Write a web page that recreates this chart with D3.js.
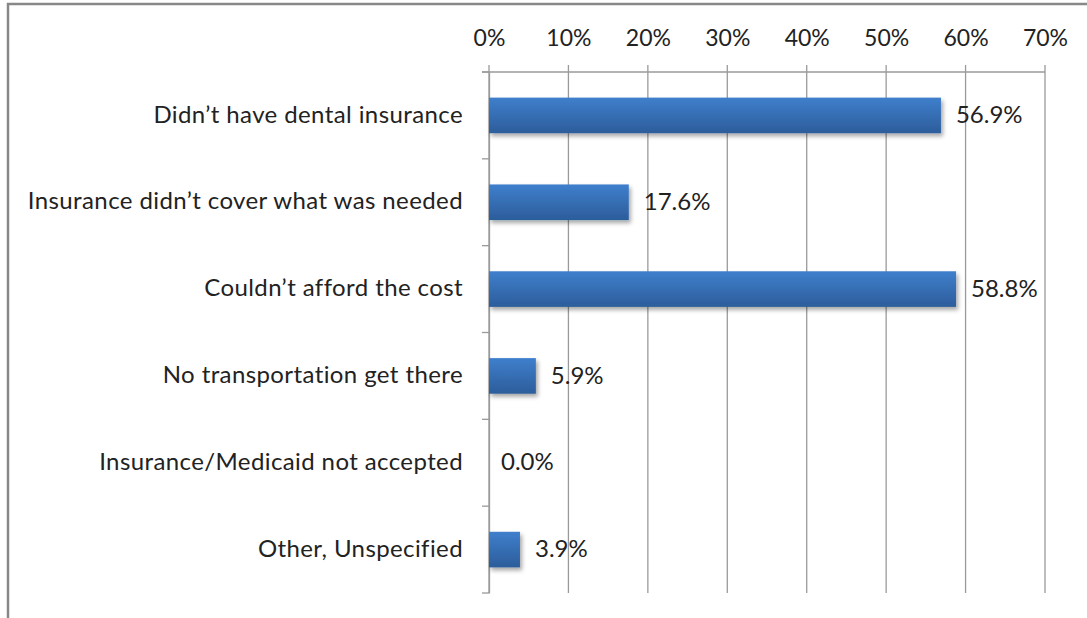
<!DOCTYPE html>
<html><head><meta charset="utf-8">
<script src="https://cdn.jsdelivr.net/npm/d3@7"></script>
<style>body{margin:0;background:#fff}svg{display:block}text{font-family:Lato,sans-serif}</style>
</head><body><svg id="c" width="1087" height="618"></svg>
<script>
const categories = ["Didn\u2019t have dental insurance","Insurance didn\u2019t cover what was needed","Couldn\u2019t afford the cost","No transportation get there","Insurance/Medicaid not accepted","Other, Unspecified"];
const values = [56.9, 17.6, 58.8, 5.9, 0.0, 3.9];
const tickValues = [0,10,20,30,40,50,60,70];

const FS = 23, FL = 24;
const svg = d3.select("#c");
const L = 489, R = 1045, T = 72, B = 593;
const x = d3.scaleLinear().domain([0,70]).range([L,R]);
const y = d3.scaleBand().domain(categories).range([T,B]).paddingInner(0.59).paddingOuter(0.295);

const defs = svg.append("defs");
const g = defs.append("linearGradient").attr("id","bg").attr("x1",0).attr("y1",0).attr("x2",0).attr("y2",1);
g.append("stop").attr("offset","0%").attr("stop-color","#3f7fcc");
g.append("stop").attr("offset","100%").attr("stop-color","#2c5d9b");
const f = defs.append("filter").attr("id","sh").attr("x","-20%").attr("y","-30%").attr("width","150%").attr("height","190%");
f.append("feDropShadow").attr("dx",2).attr("dy",3).attr("stdDeviation",2).attr("flood-color","#000").attr("flood-opacity",0.35);

// border
svg.append("rect").attr("x",8).attr("y",4).attr("width",1100).attr("height",640).attr("fill","none").attr("stroke","#888").attr("stroke-width",2.5);

// gridlines
svg.append("g").selectAll("line").data(tickValues).join("line")
  .attr("x1",d=>x(d)).attr("x2",d=>x(d)).attr("y1",T-7).attr("y2",B)
  .attr("stroke","#9a9a9a").attr("stroke-width",1.3);
svg.append("line").attr("x1",L-7).attr("x2",R).attr("y1",T).attr("y2",T).attr("stroke","#9a9a9a").attr("stroke-width",1.3);

// top axis labels
const xa = d3.axisTop(x).tickValues(tickValues).tickFormat(d=>d+"%").tickSize(0).tickPadding(0);
const ga = svg.append("g").attr("transform",`translate(0,46)`).call(xa);
ga.select(".domain").remove();
ga.selectAll("text").attr("font-size",FS).attr("fill","#222").attr("font-family","Lato,sans-serif");

// left axis
const ya = d3.axisLeft(y).tickSize(0).tickPadding(26);
const gy = svg.append("g").attr("transform",`translate(${L},0)`).call(ya);
gy.select(".domain").attr("stroke","#9a9a9a").attr("stroke-width",1.3);
gy.selectAll("text").attr("font-size",FL).attr("letter-spacing","0.4px").attr("dy","0.3em").attr("fill","#222").attr("font-family","Lato,sans-serif");
const bounds = d3.range(categories.length+1).map(i=>T+i*(B-T)/categories.length);
svg.append("g").selectAll("line").data(bounds).join("line")
  .attr("x1",L-7).attr("x2",L).attr("y1",d=>d).attr("y2",d=>d).attr("stroke","#9a9a9a").attr("stroke-width",1.3);

// bars
svg.append("g").selectAll("rect").data(values).join("rect")
  .attr("x",x(0)).attr("y",(d,i)=>y(categories[i]))
  .attr("width",d=>x(d)-x(0)).attr("height",y.bandwidth())
  .attr("fill","url(#bg)").attr("filter","url(#sh)");

// value labels
svg.append("g").selectAll("text").data(values).join("text")
  .attr("x",d=>x(d)+ (d>0?15:12)).attr("y",(d,i)=>y(categories[i])+y.bandwidth()/2)
  .attr("dy","0.32em").attr("font-size",FL).attr("fill","#222")
  .text(d=>d.toFixed(1)+"%");
</script></body></html>
